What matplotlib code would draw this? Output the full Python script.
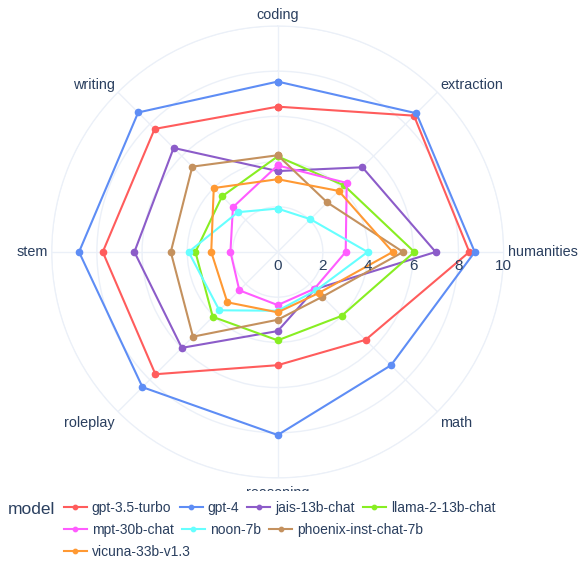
import numpy as np
import matplotlib
matplotlib.use("Agg")
import matplotlib.pyplot as plt
from matplotlib.patches import Rectangle

plt.rcParams['font.family'] = ['Liberation Sans', 'DejaVu Sans']

# categories clockwise from the top
categories = ["coding", "extraction", "humanities", "math", "reasoning", "roleplay", "stem", "writing"]

gpt35 = [6.43, 8.53, 8.48, 5.50, 5.01, 7.65, 7.74, 7.70]
gpt4 = [7.54, 8.68, 8.72, 7.09, 8.10, 8.46, 8.79, 8.73]
jais = [3.58, 5.30, 6.99, 2.33, 3.50, 6.00, 6.34, 6.51]
llama = [4.23, 4.16, 6.05, 4.00, 3.91, 4.06, 3.64, 3.48]
mpt = [3.83, 4.32, 3.01, 2.30, 2.35, 2.40, 2.09, 2.80]
noon = [1.92, 2.05, 3.98, 2.40, 2.60, 3.65, 3.94, 2.49]
phoenix = [4.28, 3.10, 5.55, 2.80, 3.00, 5.30, 4.73, 5.34]
vicuna = [3.22, 3.82, 5.09, 2.57, 2.67, 3.15, 2.94, 4.00]

models = ["gpt-3.5-turbo", "gpt-4", "jais-13b-chat", "llama-2-13b-chat",
          "mpt-30b-chat", "noon-7b", "phoenix-inst-chat-7b", "vicuna-33b-v1.3"]
series = [gpt35, gpt4, jais, llama, mpt, noon, phoenix, vicuna]
colors = ["#FF5C5C", "#5E8DF5", "#8C5CC9", "#88EE22",
          "#FF5CFF", "#66FFFF", "#C4915E", "#FF9933"]

rticks = [0, 2, 4, 6, 8, 10]
txt = "#2a3f5f"
grid = "#EBF0F8"

fig = plt.figure(figsize=(5.82, 5.62), dpi=100)
ax = fig.add_axes([0.0888, 0.1495, 0.7766, 0.8043], projection="polar")
ax.set_theta_offset(np.pi / 2)
ax.set_theta_direction(-1)

theta = np.arange(len(categories)) * 2 * np.pi / len(categories)
handles = []
for name, vals, c in zip(models, series, colors):
    t = np.append(theta, theta[0])
    r = np.append(vals, vals[0])
    ln, = ax.plot(t, r, color=c, lw=1.5, marker="o", ms=4.5, label=name, clip_on=False)
    handles.append(ln)

ax.set_ylim(0, 10)
ax.set_yticks(rticks)
ax.set_yticklabels([])
ax.set_xticks(theta)
ax.set_xticklabels([])
ax.grid(color=grid, lw=1)
ax.spines["polar"].set_color(grid)
ax.tick_params(length=0)

# radial tick labels along the humanities axis
for v in rticks:
    ax.annotate(str(v), (np.pi / 2, v), xytext=(0, -5), textcoords="offset points",
                ha="center", va="top", fontsize=11, color=txt)

# category labels just outside the circle
align = {
    "coding": ("center", "bottom", 0, 3),
    "extraction": ("left", "bottom", 2, 0),
    "humanities": ("left", "center", 3, 0),
    "math": ("left", "top", 2, -3),
    "reasoning": ("center", "top", 0, -6),
    "roleplay": ("right", "top", -2, -3),
    "stem": ("right", "center", -3, 0),
    "writing": ("right", "bottom", -2, 0),
}
for cat, th in zip(categories, theta):
    ha, va, dx, dy = align[cat]
    ax.annotate(cat, (th, 10), xytext=(dx, dy), textcoords="offset points",
                ha=ha, va=va, fontsize=10.4, color=txt, annotation_clip=False)

# white band behind the legend (hides lower part of "reasoning" like the original)
fig.patches.append(Rectangle((0, 0), 1, 1 - 491 / 562, transform=fig.transFigure,
                             facecolor="white", edgecolor="none", zorder=2))

fig.text(8 / 582, 1 - 510 / 562, "model", fontsize=12.5, color=txt, va="center", zorder=6)

rows = [[0, 1, 2, 3], [4, 5, 6], [7]]
row_y = [508, 530, 552]
for idx, y in zip(rows, row_y):
    leg = fig.legend([handles[i] for i in idx], [models[i] for i in idx],
                     loc="center left", bbox_to_anchor=(64 / 582, 1 - y / 562),
                     ncol=len(idx), frameon=False, borderpad=0, borderaxespad=0,
                     handlelength=1.65, handletextpad=0.35, columnspacing=0.6,
                     fontsize=10, labelcolor=txt, markerscale=0.7)
    leg.set_zorder(6)

fig.savefig("out.png", dpi=100, facecolor="white")
